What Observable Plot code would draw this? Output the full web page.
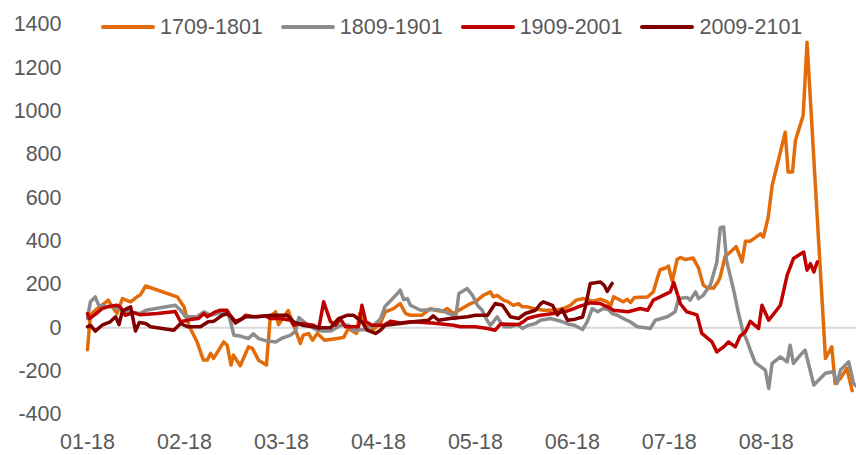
<!DOCTYPE html>
<html><head><meta charset="utf-8">
<script src="https://cdn.jsdelivr.net/npm/d3@7"></script>
<script src="https://cdn.jsdelivr.net/npm/@observablehq/plot@0.6"></script>
<style>
body{margin:0;background:#fff;}
#wrap{position:relative;width:856px;height:455px;font-family:'Liberation Sans',Arial,sans-serif;}
#legend{position:absolute;left:101px;top:16px;height:22px;display:flex;align-items:center;font-size:21.5px;color:#595959;line-height:22px;white-space:nowrap;}
#legend .item{display:flex;align-items:center;margin-right:18px;}
#legend .sw{display:inline-block;width:54px;height:4px;border-radius:2px;margin-right:5px;}
</style></head><body>
<div id="wrap"><div id="legend"></div></div>
<script>
// Category tick labels (every 20th category)
const tickPos = [0, 20, 40, 60, 80, 100, 120, 140];
const tickLabels = ["01-18", "02-18", "03-18", "04-18", "05-18", "06-18", "07-18", "08-18"];
const yTicks = [-400, -200, 0, 200, 400, 600, 800, 1000, 1200, 1400];
const seriesNames = ["1709-1801", "1809-1901", "1909-2001", "2009-2101"];
const seriesColors = ["#E36C09", "#8C8C8C", "#C00000", "#800000"];

// [category index, value]
const s1709 = [[0,-101],[0.6,60],[2.0,89],[3.3,110],[4.3,128],[5.1,97],[6.1,66],[7.2,135],[8.9,120],[10.2,143],[10.9,152],[12.0,193],[18.5,143],[19.9,97],[20.9,12],[22.6,-65],[23.9,-149],[24.7,-149],[25.4,-118],[26.0,-141],[28.1,-65],[28.8,-80],[29.6,-172],[30.1,-126],[31.5,-175],[33.2,-88],[34.0,-95],[35.3,-150],[36.9,-172],[37.7,50],[38.8,74],[39.4,15],[41.4,80],[43.9,-72],[44.5,-34],[45.6,-26],[46.4,-57],[47.4,-26],[48.9,-57],[51.5,-49],[52.8,-45],[53.8,-3],[55.5,-26],[56.1,66],[57.5,12],[58.8,-11],[60.4,20],[61.4,74],[63.1,89],[64.5,112],[65.6,66],[66.6,58],[68.9,58],[70.7,89],[71.8,81],[73.2,75],[74.2,89],[75.5,66],[79.0,112],[80.0,120],[81.6,150],[83.1,166],[83.7,143],[84.5,150],[85.8,128],[86.8,120],[87.8,104],[88.9,112],[89.7,97],[90.7,97],[92.0,89],[94.0,81],[96.5,81],[98.1,89],[99.6,104],[100.8,128],[102.3,135],[104.3,123],[105.8,132],[107.2,120],[107.8,97],[108.5,143],[109.5,132],[110.5,120],[111.3,132],[112.0,117],[112.8,140],[115.5,142],[116.7,166],[117.5,227],[118.1,268],[119.2,276],[119.8,285],[120.6,215],[121.6,315],[122.3,325],[123.3,315],[124.9,322],[126.0,278],[127.0,197],[127.8,185],[129.1,183],[130.1,215],[130.5,235],[131.5,330],[132.6,350],[133.8,375],[135.0,304],[135.7,400],[136.7,400],[138.8,434],[139.4,419],[140.4,511],[141.2,657],[142.9,811],[143.9,903],[144.5,719],[145.4,719],[146.0,865],[147.6,980],[148.4,1318],[152.2,-141],[153.5,-88],[154.2,-257],[155.3,-233],[156.6,-187],[157.7,-290]];

const s1809 = [[0,43],[0.6,120],[1.6,143],[2.3,104],[3.7,100],[5.1,97],[6.8,85],[8.9,72],[10.9,66],[12.0,81],[18.1,104],[19.2,81],[20.2,51],[22.6,51],[24.0,74],[25.4,58],[26.8,66],[28.8,74],[29.5,28],[30.2,-34],[31.5,-38],[33.2,-49],[34.2,-28],[35.3,-50],[36.9,-60],[38.8,-65],[40.0,-49],[41.9,-34],[42.9,-15],[43.6,48],[44.5,30],[46.0,5],[47.4,-11],[48.5,-15],[50.1,-15],[51.1,-3],[52.2,12],[53.8,12],[54.8,-11],[57.7,-8],[59.0,12],[60.4,40],[61.4,100],[62.5,125],[63.9,158],[64.5,174],[65.2,130],[66.0,135],[66.6,104],[68.7,81],[71.3,85],[72.4,83],[73.4,77],[75.3,58],[75.9,43],[76.6,158],[78.3,181],[79.4,150],[80.4,104],[81.4,81],[82.4,35],[83.1,12],[83.7,28],[84.5,51],[85.2,25],[86.0,5],[87.2,5],[88.7,15],[89.7,-3],[90.7,10],[92.4,20],[93.4,35],[95.5,43],[98.0,28],[99.0,18],[100.4,12],[102.1,-8],[103.1,30],[104.1,89],[105.2,74],[106.4,89],[107.4,85],[108.2,66],[109.3,58],[110.5,43],[111.9,28],[113.4,5],[116.1,-3],[117.1,35],[119.6,51],[121.2,74],[121.9,135],[123.7,140],[124.3,128],[125.4,166],[126.0,135],[127.0,150],[128.5,200],[129.8,304],[130.5,462],[131.2,465],[131.8,310],[133.2,181],[134.2,74],[135.1,-10],[136.1,-65],[136.7,-103],[137.7,-160],[138.4,-172],[139.8,-195],[140.5,-280],[141.2,-164],[142.9,-134],[144.3,-157],[144.9,-80],[145.6,-164],[147.0,-126],[148.0,-103],[149.8,-264],[152.2,-210],[153.8,-203],[154.6,-257],[155.3,-195],[157.0,-157],[158.0,-257],[158.6,-270]];

const s1909 = [[0,66],[0.4,43],[1.6,62],[3.0,89],[4.7,100],[6.1,104],[6.8,95],[7.8,58],[9.5,70],[10.9,60],[14.4,66],[18.1,75],[19.2,28],[21.6,40],[22.9,43],[24.0,66],[24.7,51],[26.4,74],[27.4,81],[28.8,81],[29.5,55],[30.5,30],[31.9,43],[32.6,58],[34.2,51],[36.7,55],[37.7,43],[39.8,43],[41.9,35],[42.5,12],[43.9,20],[46.6,12],[47.7,-3],[48.7,120],[50.1,30],[51.1,12],[52.2,40],[53.2,5],[55.9,5],[56.6,104],[57.4,28],[58.7,12],[61.1,12],[62.5,30],[64.5,22],[66.6,28],[71.1,22],[75.5,12],[76.9,5],[80.0,5],[82.5,-3],[84.1,-11],[85.2,18],[88.9,15],[89.9,28],[90.7,43],[92.0,51],[93.4,58],[96.1,66],[97.5,72],[99.0,78],[100.2,88],[101.6,100],[103.7,115],[105.8,112],[107.2,97],[108.5,81],[111.5,74],[114.0,89],[115.5,81],[116.7,128],[118.1,143],[120.2,166],[120.9,210],[122.3,110],[123.6,74],[125.7,60],[126.7,-26],[128.8,-65],[129.8,-111],[131.2,-88],[132.2,-65],[133.6,-88],[134.6,-38],[135.7,-18],[136.7,30],[138.4,-3],[139.1,104],[140.5,35],[142.9,104],[144.3,243],[145.6,320],[147.7,350],[148.4,266],[149.1,296],[149.8,258],[150.5,304]];

const s2009 = [[0,5],[0.6,12],[1.6,-15],[3.0,12],[4.7,28],[5.8,51],[6.5,15],[7.2,78],[8.9,97],[9.9,-15],[10.7,25],[12.0,20],[13.0,5],[17.8,-11],[19.2,20],[20.6,5],[23.3,5],[24.9,28],[26.0,30],[27.8,58],[28.7,65],[29.5,55],[30.5,22],[32.6,51],[35.1,51],[37.9,58],[41.2,58],[42.5,28],[44.3,12],[48.0,0],[50.1,0],[51.8,43],[53.5,58],[54.9,58],[56.6,28],[57.7,-11],[59.4,-26],[60.4,-11],[61.4,12],[64.5,20],[67.2,28],[70.3,35],[71.3,55],[72.4,35],[74.8,43],[78.4,51],[80.0,58],[82.5,58],[84.1,112],[85.6,104],[87.2,51],[88.9,43],[90.3,66],[92.4,81],[93.4,110],[94.0,120],[95.9,104],[96.9,60],[97.9,85],[99.0,35],[100.6,40],[102.1,50],[102.7,100],[103.7,205],[105.8,212],[106.6,195],[107.2,168],[108.2,205]];

const allSeries = [s1709, s1809, s1909, s2009];
const xMax = 158.6;

const lbl = new Map(tickPos.map((t, i) => [t, tickLabels[i]]));

const chart = Plot.plot({
  width: 856,
  height: 455,
  marginLeft: 87,
  marginRight: 0,
  marginTop: 24,
  marginBottom: 41,
  style: {fontFamily: "'Liberation Sans', Arial, sans-serif", fontSize: "21.5px", color: "#595959", background: "transparent", overflow: "visible"},
  x: {domain: [0, xMax], ticks: tickPos, tickFormat: d => lbl.get(d), tickSize: 0, tickPadding: 19, label: null},
  y: {domain: [-400, 1400], ticks: yTicks, tickFormat: d => String(d), tickSize: 0, tickPadding: 26, label: null},
  marks: [
    Plot.ruleY([0], {x1: 0, x2: xMax, stroke: "#D9D9D9", strokeWidth: 2}),
    ...allSeries.map((s, i) => Plot.line(s, {x: d => d[0], y: d => d[1], stroke: seriesColors[i], strokeWidth: 3.5, strokeLinejoin: "round", strokeLinecap: "round"}))
  ]
});
document.getElementById("wrap").prepend(chart);

const legend = document.getElementById("legend");
seriesNames.forEach((n, i) => {
  const it = document.createElement("div");
  it.className = "item";
  const sw = document.createElement("span");
  sw.className = "sw";
  sw.style.background = seriesColors[i];
  const tx = document.createElement("span");
  tx.textContent = n;
  it.appendChild(sw); it.appendChild(tx);
  legend.appendChild(it);
});
</script>
</body></html>
